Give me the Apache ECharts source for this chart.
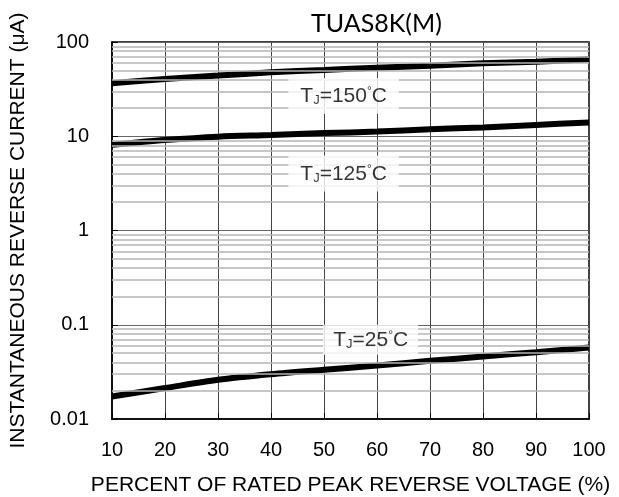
<!DOCTYPE html>
<html>
<head>
<meta charset="utf-8">
<script src="https://cdn.jsdelivr.net/npm/echarts@6/dist/echarts.min.js"></script>
<style>
  html, body { margin: 0; padding: 0; background: #fff; }
  #chart { width: 619px; height: 497px; }
</style>
</head>
<body>
<div id="chart"></div>
<script>
// percent of rated peak reverse voltage
var voltPct = [10, 20, 30, 40, 50, 60, 70, 80, 90, 100]
// reverse current (uA)
var tj150 = [36.5, 40.5, 44.0, 47.7, 50.5, 53.4, 56.1, 59.4, 61.8, 65.6]
var tj125 = [8.1, 9.1, 9.9, 10.3, 10.8, 11.2, 11.9, 12.4, 13.2, 14.0]
var tj25 = [0.0173, 0.0213, 0.0261, 0.0299, 0.0333, 0.0369, 0.0414, 0.046, 0.0512, 0.0573]
// curve labels: [x, y, temperature]
var labelPos = [
  [53.7, 26.8, '150'],
  [53.7, 4.03, '125'],
  [58.8, 0.0692, '25']
]
var decades = [0.01, 0.1, 1, 10]

var fontArial = '"Liberation Sans", Arial, sans-serif'

function pairs(ys) {
  var out = []
  for (var i = 0; i < voltPct.length; i++) {
    out.push([voltPct[i], ys[i]])
  }
  return out
}

// light log-scale minor grid (2..9 of each decade)
var minorLines = []
for (var d = 0; d < decades.length; d++) {
  for (var k = 2; k <= 9; k++) {
    minorLines.push({ yAxis: +(decades[d] * k).toPrecision(3) })
  }
}

function curve(name, ys) {
  return {
    name: name,
    type: 'line',
    data: pairs(ys),
    smooth: 0.3,
    symbol: 'none',
    z: 4,
    lineStyle: { color: '#000', width: 6 }
  }
}

var chart = echarts.init(document.getElementById('chart'))
chart.setOption({
  backgroundColor: '#fff',
  animation: false,
  title: {
    text: 'TUAS8K(M)',
    left: 306,
    top: 6,
    textStyle: {
      fontFamily: 'Lato, sans-serif',
      fontWeight: 'normal',
      fontSize: 25,
      color: '#000'
    }
  },
  grid: {
    left: 112,
    right: 30,
    top: 42,
    bottom: 78,
    outerBoundsMode: 'none',
    containLabel: false,
    show: true,
    borderColor: '#000',
    borderWidth: 1.5
  },
  xAxis: {
    type: 'value',
    min: 10,
    max: 100,
    interval: 10,
    name: 'PERCENT OF RATED PEAK REVERSE VOLTAGE (%)',
    nameLocation: 'middle',
    nameGap: 56,
    nameTextStyle: { fontFamily: fontArial, fontSize: 21, color: '#000' },
    axisLine: { show: true, lineStyle: { color: '#000', width: 1.5 } },
    axisTick: { show: true, inside: true, length: 6, lineStyle: { color: '#000' } },
    axisLabel: { fontFamily: fontArial, fontSize: 20, color: '#000', margin: 21 },
    splitLine: { show: true, lineStyle: { color: '#444', width: 1 } }
  },
  yAxis: {
    type: 'log',
    logBase: 10,
    min: 0.01,
    max: 100,
    name: 'INSTANTANEOUS REVERSE CURRENT (μA)',
    nameLocation: 'middle',
    nameGap: 83,
    nameRotate: 90,
    nameTextStyle: { fontFamily: fontArial, fontSize: 21, color: '#000' },
    axisLine: { show: true, lineStyle: { color: '#000', width: 1.5 } },
    axisTick: { show: true, inside: true, length: 6, lineStyle: { color: '#000' } },
    axisLabel: { fontFamily: fontArial, fontSize: 20, color: '#000', margin: 23 },
    splitLine: { show: true, lineStyle: { color: '#666', width: 1 } }
  },
  series: [
    {
      name: 'minor',
      type: 'line',
      data: [],
      silent: true,
      z: 1,
      markLine: {
        silent: true,
        symbol: 'none',
        label: { show: false },
        lineStyle: { color: '#b4b4b4', width: 1.5, type: 'solid' },
        data: minorLines
      }
    },
    curve('150', tj150),
    curve('125', tj125),
    curve('25', tj25),
    {
      name: 'labels',
      type: 'scatter',
      symbolSize: 1,
      z: 5,
      itemStyle: { color: 'rgba(0,0,0,0)' },
      data: labelPos.map(function(p) {
        var small = p[2] === '25'
        return {
          value: [p[0], p[1]],
          label: {
            padding: small ? [5, 10, 4, 10] : [8, 12, 7, 12]
          },
          temp: p[2]
        }
      }),
      label: {
        show: true,
        position: 'inside',
        backgroundColor: '#fff',
        formatter: function(params) {
          return '{t|T}{s|J}{t|=' + params.data.temp + '}{d|°}{t|C}'
        },
        rich: {
          t: { fontFamily: fontArial, fontSize: 21, color: '#000', lineHeight: 21 },
          s: { fontFamily: fontArial, fontSize: 13, color: '#000', verticalAlign: 'bottom', lineHeight: 13 },
          d: { fontFamily: fontArial, fontSize: 12, color: '#000', verticalAlign: 'top', lineHeight: 12 }
        }
      }
    }
  ]
})
</script>
</body>
</html>
